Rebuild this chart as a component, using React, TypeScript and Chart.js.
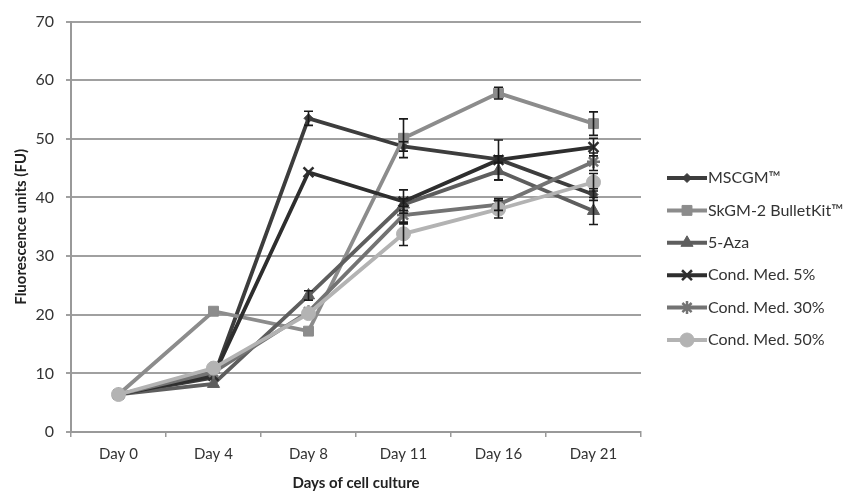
import React, { useEffect, useRef } from "react";
import { Chart, registerables } from "chart.js";
import { drawPoint } from "chart.js/helpers";

Chart.register(...registerables);

const categories = ["Day 0", "Day 4", "Day 8", "Day 11", "Day 16", "Day 21"];
const yTicks = [0, 10, 20, 30, 40, 50, 60, 70];

const seriesNames = ["MSCGM™", "SkGM-2 BulletKit™", "5-Aza", "Cond. Med. 5%", "Cond. Med. 30%", "Cond. Med. 50%"];
const mscgm = [6.4, 9.3, 53.5, 48.7, 46.5, 40.5];
const skgm = [6.4, 20.6, 17.2, 50.1, 57.8, 52.6];
const aza = [6.4, 8.2, 23.3, 38.8, 44.5, 37.7];
const cond5 = [6.4, 9.6, 44.3, 39.3, 46.4, 48.6];
const cond30 = [6.4, 10.2, 20.5, 37.0, 38.8, 46.1];
const cond50 = [6.4, 10.9, 20.2, 33.8, 38.0, 42.6];

const errMscgm = [0, 0, 1.2, 0.8, 0.6, 1.0];
const errSkgm = [0, 0, 0, 3.3, 1.0, 2.0];
const errAza = [0, 0, 0.8, 1.0, 1.5, 2.3];
const errCond5 = [0, 0, 0, 2.0, 3.4, 1.5];
const errCond30 = [0, 0, 0, 1.5, 1.0, 1.5];
const errCond50 = [0, 0, 0, 2.0, 1.5, 1.5];

const values = [mscgm, skgm, aza, cond5, cond30, cond50];
const errors = [errMscgm, errSkgm, errAza, errCond5, errCond30, errCond50];
const colors = ["#3d3d3d", "#8c8c8c", "#5e5e5e", "#2e2e2e", "#737373", "#b3b3b3"];
const pointStyles = ["rectRot", "rect", "triangle", "crossRot", "star", "circle"];
const pointRadii = [4.5, 7, 7, 7, 6.5, 7];

const FONT = "Lato, 'Open Sans', sans-serif";

const errorBarPlugin = {
  id: "errorBars",
  afterDatasetsDraw(chart: any) {
    const ctx = chart.ctx;
    const yScale = chart.scales.y;
    ctx.save();
    ctx.strokeStyle = "#1a1a1a";
    ctx.lineWidth = 1.6;
    errors.forEach((errs, i) => {
      const meta = chart.getDatasetMeta(i);
      errs.forEach((e, j) => {
        if (!e) return;
        const pt = meta.data[j];
        const v = values[i][j];
        const yt = yScale.getPixelForValue(v + e);
        const yb = yScale.getPixelForValue(v - e);
        const x = pt.x;
        ctx.beginPath();
        ctx.moveTo(x, yt);
        ctx.lineTo(x, yb);
        ctx.moveTo(x - 4.5, yt);
        ctx.lineTo(x + 4.5, yt);
        ctx.moveTo(x - 4.5, yb);
        ctx.lineTo(x + 4.5, yb);
        ctx.stroke();
      });
    });
    ctx.restore();
  },
};

const legendPlugin = {
  id: "sideLegend",
  afterDraw(chart: any) {
    const ctx = chart.ctx;
    const area = chart.chartArea;
    const x0 = area.right + 26;
    const lineLen = 40;
    ctx.save();
    seriesNames.forEach((name, i) => {
      const y = 178 + i * 32.4;
      ctx.strokeStyle = colors[i];
      ctx.lineWidth = 4;
      ctx.beginPath();
      ctx.moveTo(x0, y);
      ctx.lineTo(x0 + lineLen, y);
      ctx.stroke();
      ctx.fillStyle = colors[i];
      ctx.strokeStyle = colors[i];
      ctx.lineWidth = pointStyles[i] === "crossRot" || pointStyles[i] === "star" ? 2.5 : 1;
      drawPoint(ctx, { pointStyle: pointStyles[i], radius: pointRadii[i], rotation: 0, borderWidth: ctx.lineWidth } as any, x0 + lineLen / 2, y);
      ctx.fillStyle = "#333333";
      ctx.font = `16px ${FONT}`;
      ctx.textAlign = "left";
      ctx.textBaseline = "middle";
      ctx.fillText(name, x0 + lineLen + 1, y);
    });
    ctx.restore();
  },
};

export default function App() {
  const canvasRef = useRef<HTMLCanvasElement>(null);

  useEffect(() => {
    if (!canvasRef.current) return;
    Chart.defaults.font.family = FONT;
    const chart = new Chart(canvasRef.current, {
      type: "line",
      data: {
        labels: categories,
        datasets: values.map((vals, i) => ({
          label: seriesNames[i],
          data: vals,
          borderColor: colors[i],
          backgroundColor: colors[i],
          borderWidth: 3.8,
          pointStyle: pointStyles[i] as any,
          pointRadius: pointRadii[i],
          pointBorderWidth: pointStyles[i] === "crossRot" || pointStyles[i] === "star" ? 2.5 : 1,
          pointBorderColor: colors[i],
          pointBackgroundColor: colors[i],
          tension: 0,
          fill: false,
          order: 6 - i,
        })),
      },
      options: {
        responsive: false,
        animation: false,
        layout: { padding: { top: 11, right: 205, left: 0, bottom: 0 } },
        plugins: {
          legend: { display: false },
          tooltip: { enabled: false },
        },
        scales: {
          x: {
            offset: true,
            grid: {
              offset: true,
              drawOnChartArea: false,
              drawTicks: true,
              tickLength: 5,
              color: "#999999",
              lineWidth: 1.5,
            },
            border: { color: "#999999", width: 2 },
            ticks: { color: "#333333", font: { size: 15 }, padding: 8, maxRotation: 0 },
            title: {
              display: true,
              text: "Days of cell culture",
              color: "#222222",
              font: { size: 15, weight: "bold", lineHeight: 1 },
              padding: { top: 4, bottom: 1 },
            },
            afterFit(scale: any) {
              scale.height = 60;
            },
          },
          y: {
            min: 0,
            max: 70,
            afterBuildTicks(scale: any) {
              scale.ticks = yTicks.map((v) => ({ value: v }));
            },
            grid: {
              color: "#a0a0a0",
              lineWidth: 2,
              tickLength: 5,
            },
            border: { color: "#999999", width: 2 },
            ticks: { color: "#333333", font: { size: 16 }, padding: 12 },
            title: {
              display: true,
              text: "Fluorescence units (FU)",
              color: "#222222",
              font: { size: 15, weight: "bold", lineHeight: 1.2 },
              padding: { top: 12, bottom: 0 },
            },
            afterFit(scale: any) {
              scale.width = 71;
            },
          },
        },
      },
      plugins: [errorBarPlugin, legendPlugin],
    });
    return () => chart.destroy();
  }, []);

  return (
    <div style={{ position: "fixed", left: 0, top: 0, width: 846, height: 492, background: "#fff" }}>
      <canvas ref={canvasRef} width={846} height={492} />
    </div>
  );
}
